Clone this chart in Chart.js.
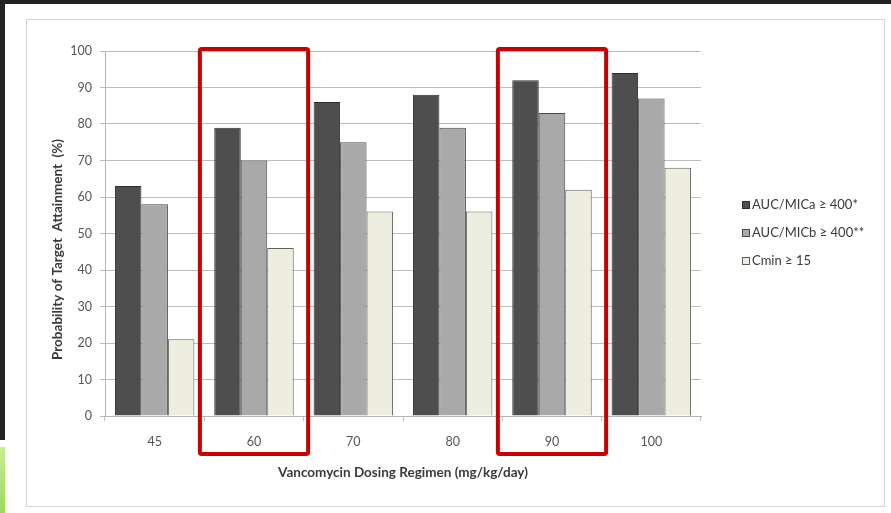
<!DOCTYPE html>
<html>
<head>
<meta charset="utf-8">
<script src="https://cdn.jsdelivr.net/npm/chart.js@4.4.1/dist/chart.umd.min.js"></script>
<style>
  html, body { margin: 0; padding: 0; background: #ffffff; }
  #wrap { position: relative; width: 891px; height: 513px; overflow: hidden; background: #ffffff; }
  .frame-top { position: absolute; left: 0; top: 0; width: 891px; height: 4px; background: #232323; }
  .frame-left { position: absolute; left: 0; top: 0; width: 5px; height: 440px; background: #232323; }
  .frame-green { position: absolute; left: 0; top: 447px; width: 5px; height: 66px;
                 background: linear-gradient(#c9ec98, #9fd85a); }
  .chart-border { position: absolute; left: 26px; top: 19px; width: 859px; height: 488px;
                  border: 1px solid #d4d4d4; box-sizing: border-box; }
  canvas { position: absolute; left: 0; top: 0; }
</style>
</head>
<body>
<div id="wrap">
  <div class="frame-top"></div>
  <div class="frame-left"></div>
  <div class="frame-green"></div>
  <div class="chart-border"></div>
  <canvas id="c" width="891" height="513"></canvas>
</div>
<script>
// Dosing regimens (mg/kg/day)
const regimens = ['45', '60', '70', '80', '90', '100'];

// Probability of target attainment (%) per regimen
const aucMicA = [63, 79, 86, 88, 92, 94];
const aucMicB = [58, 70, 75, 79, 83, 87];
const cmin15 = [21, 46, 56, 56, 62, 68];

const seriesLabels = ['AUC/MICa \u2265 400*', 'AUC/MICb \u2265 400**', 'Cmin \u2265 15'];
const yTicks = [0, 10, 20, 30, 40, 50, 60, 70, 80, 90, 100];

// Regimens framed in red
const highlighted = ['60', '90'];

const FONT = 'Lato, "Open Sans", "Liberation Sans", sans-serif';

const annotate = {
  id: 'annotate',
  afterDatasetsDraw(chart) {
    const ctx = chart.ctx;
    const x = chart.scales.x;
    const area = chart.chartArea;
    const catW = (area.right - area.left) / regimens.length;

    // red frames around highlighted regimens
    ctx.save();
    ctx.strokeStyle = '#c90000';
    ctx.lineWidth = 4;
    ctx.lineJoin = 'round';
    highlighted.forEach(r => {
      const cx = x.getPixelForValue(regimens.indexOf(r));
      const half = catW * 0.545;
      const top = area.top - 2;
      const bottom = area.bottom + 38;
      ctx.beginPath();
      ctx.roundRect(cx - half, top, half * 2, bottom - top, 2);
      ctx.stroke();
    });
    ctx.restore();
  },
  afterDraw(chart) {
    const ctx = chart.ctx;
    const area = chart.chartArea;

    // y-axis title
    ctx.save();
    ctx.translate(58, (area.top + area.bottom) / 2 + 16);
    ctx.rotate(-Math.PI / 2);
    ctx.font = 'bold 13.5px ' + FONT;
    ctx.fillStyle = '#3a3a3a';
    ctx.textAlign = 'center';
    ctx.textBaseline = 'middle';
    ctx.fillText('Probability of Target  Attainment  (%)', 0, 0);
    ctx.restore();

    // legend
    ctx.save();
    ctx.font = '13px ' + FONT;
    ctx.textBaseline = 'middle';
    ctx.textAlign = 'left';
    chart.data.datasets.forEach((ds, i) => {
      const y = 205 + i * 28;
      ctx.fillStyle = ds.backgroundColor;
      ctx.fillRect(742, y - 4, 8, 8);
      ctx.strokeStyle = ds.borderColor;
      ctx.lineWidth = 1;
      ctx.strokeRect(742.5, y - 3.5, 7, 7);
      ctx.fillStyle = '#3a3a3a';
      ctx.fillText(ds.label, 752, y);
    });
    ctx.restore();
  }
};

new Chart(document.getElementById('c'), {
  type: 'bar',
  data: {
    labels: regimens,
    datasets: [
      { label: seriesLabels[0], data: aucMicA, backgroundColor: '#4e4e4e', borderColor: '#2e2e2e' },
      { label: seriesLabels[1], data: aucMicB, backgroundColor: '#a9a9a9', borderColor: '#4a4a4a' },
      { label: seriesLabels[2], data: cmin15, backgroundColor: '#eeeee0', borderColor: '#606060' }
    ]
  },
  options: {
    responsive: false,
    animation: false,
    devicePixelRatio: 1,
    layout: { padding: { left: 0, top: 51, right: 190, bottom: 0 } },
    datasets: {
      bar: { borderWidth: 1, categoryPercentage: 0.8, barPercentage: 1.0 }
    },
    plugins: {
      legend: { display: false },
      tooltip: { enabled: false }
    },
    scales: {
      x: {
        afterFit(scale) { scale.height = 97; },
        grid: { display: true, drawOnChartArea: false, drawTicks: true, tickLength: 5, color: '#bfbfbf' },
        border: { display: true, color: '#b5b5b5' },
        ticks: { color: '#555555', font: { family: FONT, size: 12.5 }, padding: 13 },
        title: {
          display: true,
          text: 'Vancomycin Dosing Regimen (mg/kg/day)',
          color: '#3a3a3a',
          font: { family: FONT, size: 13.5, weight: 'bold' },
          padding: { top: 0, bottom: 32 }
        }
      },
      y: {
        min: 0,
        max: 100,
        afterFit(scale) { scale.width = 105; },
        afterBuildTicks(scale) { scale.ticks = yTicks.map(v => ({ value: v })); },
        grid: { color: '#bdbdbd', tickLength: 5, drawTicks: true },
        border: { display: true, color: '#b5b5b5' },
        ticks: { color: '#555555', font: { family: FONT, size: 12.5 }, padding: 8 }
      }
    }
  },
  plugins: [annotate]
});
</script>
</body>
</html>
